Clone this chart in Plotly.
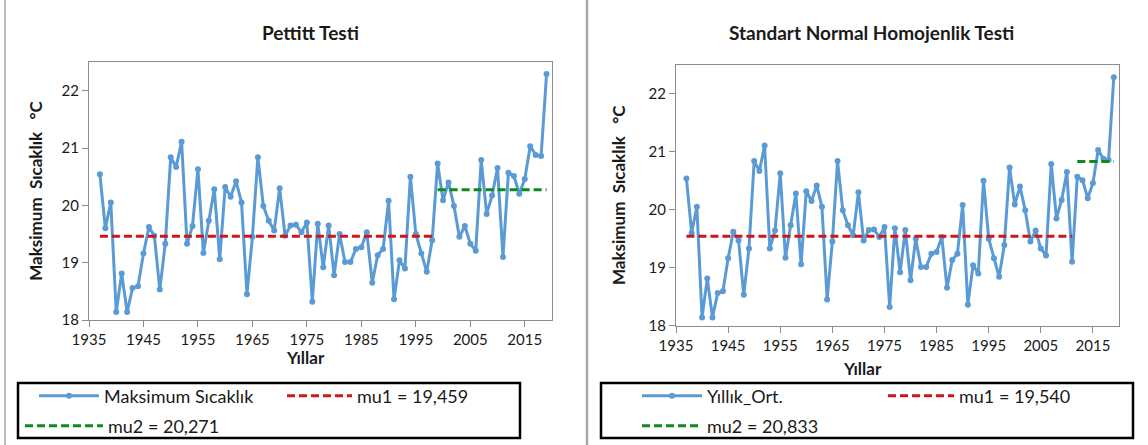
import plotly.graph_objects as go

# ---------------- data ----------------
years = list(range(1937, 2020))
temps = [
    20.54, 19.60, 20.05, 18.14, 18.81, 18.14, 18.56, 18.59, 19.16, 19.62,
    19.47, 18.53, 19.33, 20.84, 20.67, 21.11, 19.33, 19.64, 20.63, 19.17,
    19.73, 20.28, 19.06, 20.32, 20.15, 20.42, 20.05, 18.45, 19.45, 20.84,
    19.99, 19.73, 19.56, 20.30, 19.47, 19.65, 19.66, 19.53, 19.70, 18.32,
    19.68, 18.92, 19.65, 18.78, 19.50, 19.01, 19.01, 19.24, 19.27, 19.53,
    18.65, 19.13, 19.24, 20.08, 18.36, 19.04, 18.90, 20.50, 19.50, 19.16,
    18.84, 19.39, 20.73, 20.09, 20.40, 19.99, 19.45, 19.64, 19.33, 19.21,
    20.79, 19.85, 20.17, 20.65, 19.10, 20.57, 20.51, 20.20, 20.46, 21.03,
    20.88, 20.86, 22.29,
]

# Pettitt test segments
pettitt_mu1 = 19.459
pettitt_mu1_years = [1937, 1998]
pettitt_mu2 = 20.271
pettitt_mu2_years = [1999, 2019]

# SNHT segments
snht_mu1 = 19.540
snht_mu1_years = [1937, 2011]
snht_mu2 = 20.833
snht_mu2_years = [2012, 2019]

x_tick_vals = [1935, 1945, 1955, 1965, 1975, 1985, 1995, 2005, 2015]
y_tick_vals = [18, 19, 20, 21, 22]

titles = ["Pettitt Testi", "Standart Normal Homojenlik Testi"]
series_names = ["Maksimum Sıcaklık", "Yıllık_Ort."]
x_title = "Yıllar"
y_title = "Maksimum\u00a0\u00a0Sıcaklık\u00a0\u00a0\u00a0°C"

# ---------------- style ----------------
W, H = 1148, 445
FONT = "Lato"
BLUE = "#5B9BD5"
RED = "#D0161B"
GREEN = "#0B8A1E"
AXIS = "#8C8C8C"
TXT = "#1a1a1a"


def px(x):
    return x / W


def py(y):
    return 1 - y / H


def mu_label(name, v):
    return f"{name} = {v:.3f}".replace(".", ",")


fig = go.Figure()

# left panel
fig.add_trace(go.Scatter(x=years, y=temps, mode="lines+markers", name=series_names[0],
                         line=dict(color=BLUE, width=3), marker=dict(color=BLUE, size=6),
                         xaxis="x", yaxis="y", legend="legend"))
fig.add_trace(go.Scatter(x=pettitt_mu1_years, y=[pettitt_mu1] * 2, mode="lines",
                         name=mu_label("mu1", pettitt_mu1),
                         line=dict(color=RED, width=3, dash="8px,4px"),
                         xaxis="x", yaxis="y", legend="legend2"))
fig.add_trace(go.Scatter(x=pettitt_mu2_years, y=[pettitt_mu2] * 2, mode="lines",
                         name=mu_label("mu2", pettitt_mu2),
                         line=dict(color=GREEN, width=3, dash="8px,4px"),
                         xaxis="x", yaxis="y", legend="legend3"))

# right panel
fig.add_trace(go.Scatter(x=years, y=temps, mode="lines+markers", name=series_names[1],
                         line=dict(color=BLUE, width=3), marker=dict(color=BLUE, size=6),
                         xaxis="x2", yaxis="y2", legend="legend4"))
fig.add_trace(go.Scatter(x=snht_mu1_years, y=[snht_mu1] * 2, mode="lines",
                         name=mu_label("mu1", snht_mu1),
                         line=dict(color=RED, width=3, dash="8px,4px"),
                         xaxis="x2", yaxis="y2", legend="legend5"))
fig.add_trace(go.Scatter(x=snht_mu2_years, y=[snht_mu2] * 2, mode="lines",
                         name=mu_label("mu2", snht_mu2),
                         line=dict(color=GREEN, width=3, dash="8px,4px"),
                         xaxis="x2", yaxis="y2", legend="legend6"))

tickfont = dict(size=15, color=TXT, family=FONT)
xaxis_common = dict(range=[1935, 2020], tickvals=x_tick_vals, showline=True, linecolor=AXIS,
                    linewidth=1, mirror=True, ticks="outside", ticklen=6, tickcolor=AXIS,
                    showgrid=False, zeroline=False, tickfont=tickfont, automargin=False)
yaxis_common = dict(range=[18, 22.5], tickvals=y_tick_vals, showline=True, linecolor=AXIS,
                    linewidth=1, mirror=True, ticks="outside", ticklen=6, tickcolor=AXIS,
                    showgrid=False, zeroline=False, tickfont=tickfont, automargin=False)
ytitle_font = dict(size=17, color=TXT, family=FONT, weight="bold")


def legend_at(x, y, itemwidth):
    return dict(orientation="h", xanchor="left", yanchor="middle", bgcolor="rgba(0,0,0,0)",
                borderwidth=0, itemwidth=itemwidth, font=dict(size=18, color=TXT, family=FONT),
                xref="paper", yref="paper", x=px(x), y=py(y))


ROW1, ROW2 = 396, 426

fig.update_layout(
    width=W, height=H,
    margin=dict(l=0, r=0, t=0, b=0, autoexpand=False),
    paper_bgcolor="white", plot_bgcolor="white",
    font=dict(family=FONT, color=TXT),
    xaxis=dict(domain=[px(89), px(552)], anchor="y", **xaxis_common),
    yaxis=dict(domain=[py(320), py(62)], anchor="x",
               title=dict(text=y_title, font=ytitle_font, standoff=14), **yaxis_common),
    xaxis2=dict(domain=[px(676), px(1119)], anchor="y2", **xaxis_common),
    yaxis2=dict(domain=[py(325.5), py(65)], anchor="x2",
                title=dict(text=y_title, font=ytitle_font, standoff=18), **yaxis_common),
    legend=legend_at(34, ROW1, 60),
    legend2=legend_at(282, ROW1, 65),
    legend3=legend_at(20, ROW2, 78),
    legend4=legend_at(637, ROW1, 60),
    legend5=legend_at(883, ROW1, 66),
    legend6=legend_at(637, ROW2, 60),
    showlegend=True,
)

annotations = [
    dict(text=f"<b>{titles[0]}</b>", x=px(310), y=py(32), xanchor="center", yanchor="middle",
         xref="paper", yref="paper", showarrow=False, font=dict(size=19, color=TXT, family=FONT)),
    dict(text=f"<b>{titles[1]}</b>", x=px(871), y=py(32), xanchor="center", yanchor="middle",
         xref="paper", yref="paper", showarrow=False, font=dict(size=19, color=TXT, family=FONT)),
    dict(text=f"<b>{x_title}</b>", x=px(305), y=py(357), xanchor="center", yanchor="middle",
         xref="paper", yref="paper", showarrow=False, font=dict(size=17, color=TXT, family=FONT)),
    dict(text=f"<b>{x_title}</b>", x=px(862), y=py(368), xanchor="center", yanchor="middle",
         xref="paper", yref="paper", showarrow=False, font=dict(size=17, color=TXT, family=FONT)),
]
fig.update_layout(annotations=annotations)

shapes = [
    # legend boxes
    dict(type="rect", xref="paper", yref="paper", x0=px(18), x1=px(520), y0=py(438), y1=py(383),
         line=dict(color="black", width=2.5)),
    dict(type="rect", xref="paper", yref="paper", x0=px(601), x1=px(1133), y0=py(438), y1=py(383),
         line=dict(color="black", width=2.5)),
    # panel borders
    dict(type="line", xref="paper", yref="paper", x0=px(5), x1=px(5), y0=0, y1=1,
         line=dict(color="#A6A6A6", width=1.5)),
    dict(type="line", xref="paper", yref="paper", x0=px(587), x1=px(587), y0=0, y1=1,
         line=dict(color="#A6A6A6", width=2.5)),
]
fig.update_layout(shapes=shapes)

fig.write_html("out.html")
